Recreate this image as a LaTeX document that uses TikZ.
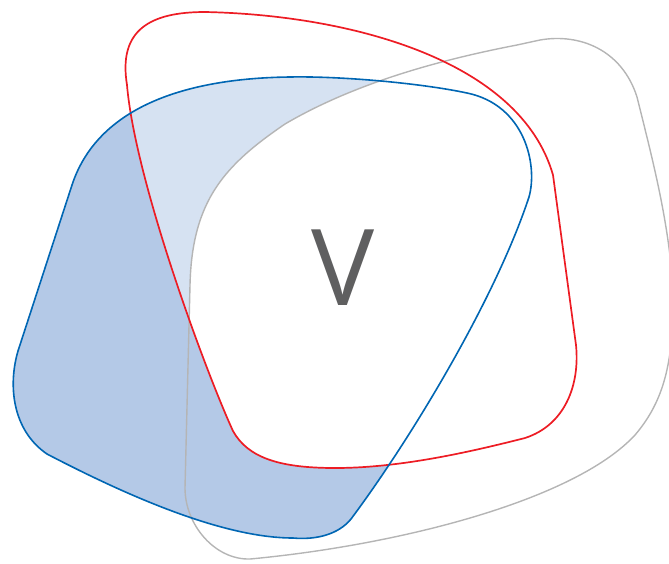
\documentclass[tikz,border=0pt]{standalone}
\usepackage{fontspec}
\setsansfont{Open Sans}
\usetikzlibrary{positioning}

\definecolor{setblue}{HTML}{0066B3}
\definecolor{setred}{HTML}{ED1C24}
\definecolor{setgray}{HTML}{B5B5B5}
\definecolor{darkfill}{HTML}{B4C9E7}
\definecolor{lightfill}{HTML}{D6E2F2}
\definecolor{lettergray}{HTML}{5F5F60}

% outlines of the three sets, in pixel units (y down)
\newcommand{\blueset}{(72,185) -- (18,351) .. controls (8,385) and (12,430) .. (47,454)
  .. controls (120,492) and (220,538) .. (293,538) .. controls (315,540) and (338,535) .. (351,519)
  .. controls (410,440) and (495,300) .. (529,197) .. controls (538,165) and (525,105) .. (467,93)
  .. controls (420,83) and (340,76) .. (290,77) .. controls (200,78) and (100,100) .. (72,185) -- cycle}
\newcommand{\redset}{(127,85) .. controls (118,30) and (150,12) .. (205,12)
  .. controls (350,15) and (520,60) .. (553,175) -- (576,345)
  .. controls (580,385) and (565,425) .. (525,438) .. controls (470,452) and (400,468) .. (335,468)
  .. controls (280,468) and (248,458) .. (233,431) .. controls (205,370) and (135,180) .. (127,85) -- cycle}
\newcommand{\grayset}{(190,285) .. controls (192,200) and (225,165) .. (285,124)
  .. controls (360,80) and (450,58) .. (517,45) -- (540,40) .. controls (580,33) and (622,50) .. (637,97)
  .. controls (650,150) and (672,230) .. (673,300) .. controls (673,360) and (665,400) .. (635,435)
  .. controls (575,500) and (400,545) .. (250,559) .. controls (215,560) and (185,525) .. (185,488) -- cycle}

\begin{document}
\begin{tikzpicture}[x=1pt,y=-1pt,
  blueline/.style={draw=setblue,line width=1.6pt},
  redline/.style={draw=setred,line width=1.7pt},
  grayline/.style={draw=setgray,line width=1.4pt},
  letter/.style={font=\sffamily\fontsize{106}{106}\selectfont,text=lettergray,inner sep=0pt}]
\useasboundingbox (0,0) rectangle (669,563);
\clip (0,0) rectangle (669,563);
% shading of the blue set
\fill[darkfill] \blueset;
\begin{scope}
 \clip \redset;
 \fill[lightfill] \blueset;
 \clip \grayset;
 \fill[white] \blueset;
\end{scope}
% outlines
\draw[grayline] \grayset;
\draw[redline] \redset;
\draw[blueline] \blueset;
\node[letter,anchor=base] (v) at (343,305) {V};
\end{tikzpicture}
\end{document}
